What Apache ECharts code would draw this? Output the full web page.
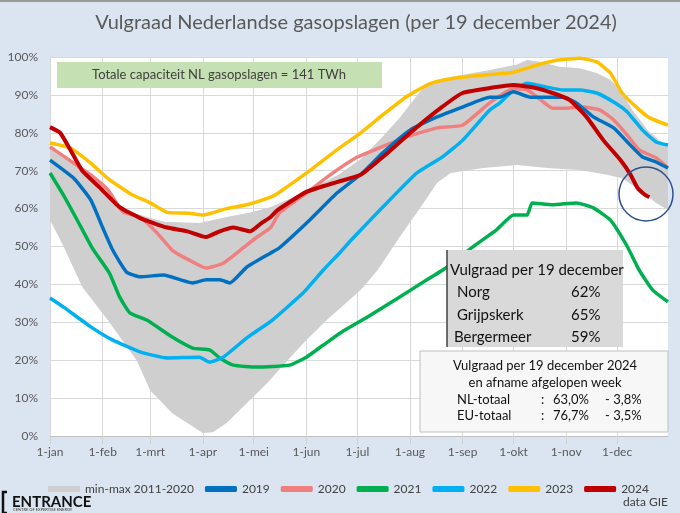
<!DOCTYPE html>
<html>
<head>
<meta charset="utf-8">
<script src="https://cdn.jsdelivr.net/npm/echarts@6/dist/echarts.min.js"></script>
<style>
  html, body { margin: 0; padding: 0; background: #dbe5f1; }
  #main { width: 680px; height: 513px; }
</style>
</head>
<body>
<div id="main"></div>
<script>
// maanden en dagen (x-as), waarden als [dag van het jaar, vulgraad %]
var months = ['jan', 'feb', 'mrt', 'apr', 'mei', 'jun', 'jul', 'aug', 'sep', 'okt', 'nov', 'dec'];
var monthDays = [31, 28, 31, 30, 31, 30, 31, 31, 30, 31, 30, 31];
var yTicks = [0, 10, 20, 30, 40, 50, 60, 70, 80, 90, 100];

// band min-max 2011-2020
var bandMax = [[0,76.5],[14,72],[43,59.6],[67,56.5],[88,56.2],[104,57.8],[118,59],[130,60.4],[151,64.5],[170,69],[183,73],[196,79],[206,84],[220,92],[236,94.7],[259,96.6],[275,98],[281,99.2],[289,98.7],[300,97.4],[312,97],[322,95.8],[330,94],[336,91.3],[343,86],[352,80.7],[359,78],[364,76.3]];
var bandMin = [[0,57],[8,50],[19,39.3],[34,30.6],[51,20],[59,12.1],[72,6],[90,0.8],[96,1],[104,3.4],[116,8.7],[128,14],[140,20],[151,25.3],[163,30.6],[171,33.8],[183,38.5],[193,43.8],[206,52.5],[220,61.5],[228,66.8],[236,69.4],[255,70.7],[275,71.5],[293,70.7],[312,70.2],[328,68.9],[337,68],[347,65],[357,61.5],[364,59.6]];

var y2019 = [[0,72.8],[14,68],[24,62.3],[31,55],[37,49],[45,43.3],[53,42],[67,42.5],[77,41.2],[84,40.4],[92,41.2],[100,41.2],[106,40.4],[116,44.6],[130,48.3],[135,49.6],[153,57],[169,64.1],[184,69.4],[196,74.7],[212,80.7],[228,84.2],[243,86.8],[259,89.4],[265,89.4],[273,90.8],[283,89.4],[293,89.4],[302,89.4],[310,87.9],[320,84.2],[332,81.3],[340,77.6],[349,73.6],[357,72.3],[364,70.7]];
var y2020 = [[0,76.3],[14,72],[24,68.9],[34,65],[43,59.1],[53,57.8],[63,53.6],[72,49],[82,46.4],[92,44.3],[102,45.6],[112,49],[122,52.5],[130,55],[135,58.8],[151,64.1],[165,68.9],[181,73.6],[194,76],[210,78.9],[228,81.3],[243,82],[259,87.9],[273,91.6],[281,91.3],[289,88.7],[296,86.5],[304,86.5],[314,86.8],[324,86],[332,83.4],[340,79.4],[347,75.5],[357,73.4],[364,70.7]];
var y2021 = [[0,69.4],[8,63.5],[16,57],[25,49.5],[35,43],[41,36.7],[47,32.5],[57,30.6],[72,26.1],[84,23.2],[94,22.7],[100,20.6],[108,18.7],[122,18.2],[141,18.7],[151,20.8],[161,24],[171,27.2],[187,31.4],[206,36.7],[222,41.2],[234,44.6],[249,49.9],[263,54.4],[273,58.3],[281,58.3],[284,61.5],[296,61],[310,61.5],[320,60.2],[330,57],[340,50],[347,43.8],[355,38.5],[364,35.4]];
var y2022 = [[0,36.4],[8,34],[24,28.8],[37,25.3],[53,22.2],[69,20.6],[88,20.8],[94,19.5],[102,20.8],[116,25.9],[131,30.6],[149,37.7],[161,43.8],[171,48.5],[177,51.5],[196,60.4],[216,69.4],[231,73.6],[243,78],[259,86],[265,87.9],[273,91.3],[281,93.1],[293,92],[302,91.3],[312,91.3],[322,90.5],[332,88.1],[340,85.5],[349,80.7],[357,77.6],[364,76.8]];
var y2023 = [[0,77.3],[12,76],[24,72],[34,68],[47,64],[59,61.5],[69,59],[82,58.8],[90,58.3],[104,60],[116,61],[130,63],[134,64],[153,70],[169,75.5],[183,80],[196,84.7],[210,89.5],[224,93],[240,94.5],[255,95.2],[273,96],[287,97.9],[299,99.2],[312,99.7],[322,98.7],[330,95.8],[337,90.5],[346,86.5],[353,84],[364,82]];
var y2024 = [[0,81.5],[6,80],[12,75.5],[19,70],[29,65.7],[41,60.4],[53,57.5],[69,55],[81,54],[92,52.5],[100,54],[108,55],[118,54],[124,56],[130,57.8],[134,59.6],[151,64.4],[169,67],[183,68.9],[196,73.6],[214,80.7],[230,86.5],[243,90.5],[259,91.8],[273,92.6],[284,92],[296,90.5],[306,88.7],[316,84.2],[326,78],[336,72.8],[342,68.9],[346,65.5],[350,63.8],[353,63.0]];

var days = [];
months.forEach(function (m, i) {
  for (var d = 1; d <= monthDays[i]; d++) days.push(d + '-' + m);
});
function isMonthStart(index, value) {
  return days[index].split('-')[0] === '1';
}

var font = 'Lato, "Open Sans", sans-serif';
var myChart = echarts.init(document.getElementById('main'));

function yearLine(name, data, color, width) {
  return {
    name: name, type: 'line', data: data, symbol: 'none', smooth: 0.15,
    lineStyle: { color: color, width: width },
    itemStyle: { color: color }
  };
}

var option = {
  backgroundColor: '#dbe5f1',
  textStyle: { fontFamily: font },
  title: {
    text: 'Vulgraad Nederlandse gasopslagen (per 19 december 2024)',
    left: 351, top: 8, textAlign: 'center',
    textStyle: { fontFamily: font, fontSize: 20, fontWeight: 'normal', color: '#595959' }
  },
  grid: { left: 50, right: 12, top: 57, bottom: 77, backgroundColor: '#ffffff', show: true, borderWidth: 0 },
  legend: {
    left: 43, top: 478, itemWidth: 32, itemHeight: 6, itemGap: 11,
    textStyle: { fontFamily: font, fontSize: 12, color: '#404040' },
    data: [
      { name: 'min-max 2011-2020', icon: 'rect', itemStyle: { color: '#cfcfcf' } },
      { name: '2019', icon: 'roundRect' },
      { name: '2020', icon: 'roundRect' },
      { name: '2021', icon: 'roundRect' },
      { name: '2022', icon: 'roundRect' },
      { name: '2023', icon: 'roundRect' },
      { name: '2024', icon: 'roundRect' }
    ]
  },
  xAxis: {
    type: 'category', data: days, boundaryGap: false,
    axisLine: { lineStyle: { color: '#bfbfbf' } },
    axisTick: { show: true, interval: isMonthStart, length: 8, lineStyle: { color: '#d0d0d0' } },
    axisLabel: { interval: isMonthStart, color: '#595959', fontSize: 12, margin: 10, fontFamily: font },
    splitLine: { show: true, interval: isMonthStart, lineStyle: { color: '#d9d9d9' } }
  },
  yAxis: {
    type: 'value', min: yTicks[0], max: yTicks[yTicks.length - 1], interval: 10,
    axisLine: { show: true, lineStyle: { color: '#d9d9d9' } },
    axisTick: { show: false },
    axisLabel: { formatter: '{value}%', color: '#595959', fontSize: 12, margin: 12, fontFamily: font },
    splitLine: { lineStyle: { color: '#d9d9d9' } }
  },
  series: [
    {
      name: 'min-max 2011-2020', type: 'custom', data: [[0, 0]], clip: true,
      itemStyle: { color: '#cfcfcf' },
      renderItem: function (params, api) {
        var pts = bandMax.map(function (p) { return api.coord(p); });
        for (var i = bandMin.length - 1; i >= 0; i--) pts.push(api.coord(bandMin[i]));
        return { type: 'polygon', shape: { points: pts }, style: { fill: '#cfcfcf' } };
      }
    },
    yearLine('2021', y2021, '#00b050', 3.5),
    yearLine('2022', y2022, '#00b0f0', 3.5),
    yearLine('2020', y2020, '#f08080', 3.5),
    yearLine('2019', y2019, '#0070c0', 3.5),
    yearLine('2023', y2023, '#ffc000', 3.5),
    yearLine('2024', y2024, '#c00000', 4)
  ],
  graphic: [
    { type: 'rect', shape: { x: 0, y: 0, width: 680, height: 2 }, style: { fill: '#9a9a9a' } },
    // groene kader
    { type: 'rect', shape: { x: 57, y: 62, width: 325, height: 26 }, style: { fill: '#c5e0b3' }, z: 10 },
    { type: 'text', x: 219, y: 75, style: { text: 'Totale capaciteit NL gasopslagen = 141 TWh', fill: '#404040', font: '13px ' + font, textAlign: 'center', textVerticalAlign: 'middle' }, z: 11 },
    // grijze kader per opslag
    { type: 'rect', shape: { x: 447, y: 250, width: 176, height: 97 }, style: { fill: '#d9d9d9' }, z: 10 },
    { type: 'line', shape: { x1: 447, y1: 250, x2: 447, y2: 347 }, style: { stroke: '#404040', lineWidth: 1.5 }, z: 11 },
    { type: 'text', x: 450, y: 270, style: { text: 'Vulgraad per 19 december', fill: '#111', font: '15px ' + font, textVerticalAlign: 'middle' }, z: 11 },
    { type: 'text', x: 457, y: 292, style: { text: 'Norg', fill: '#111', font: '15px ' + font, textVerticalAlign: 'middle' }, z: 11 },
    { type: 'text', x: 571, y: 292, style: { text: '62%', fill: '#111', font: '15px ' + font, textVerticalAlign: 'middle' }, z: 11 },
    { type: 'text', x: 457, y: 315, style: { text: 'Grijpskerk', fill: '#111', font: '15px ' + font, textVerticalAlign: 'middle' }, z: 11 },
    { type: 'text', x: 571, y: 315, style: { text: '65%', fill: '#111', font: '15px ' + font, textVerticalAlign: 'middle' }, z: 11 },
    { type: 'text', x: 454, y: 337, style: { text: 'Bergermeer', fill: '#111', font: '15px ' + font, textVerticalAlign: 'middle' }, z: 11 },
    { type: 'text', x: 571, y: 337, style: { text: '59%', fill: '#111', font: '15px ' + font, textVerticalAlign: 'middle' }, z: 11 },
    // witte kader totaal
    { type: 'rect', shape: { x: 420, y: 351, width: 248, height: 81 }, style: { fill: '#f7f7f7', stroke: '#bfbfbf', lineWidth: 1 }, z: 10 },
    { type: 'text', x: 545, y: 366, style: { text: 'Vulgraad per 19 december 2024', fill: '#111', font: '13px ' + font, textAlign: 'center', textVerticalAlign: 'middle' }, z: 11 },
    { type: 'text', x: 545, y: 383, style: { text: 'en afname afgelopen week', fill: '#111', font: '13px ' + font, textAlign: 'center', textVerticalAlign: 'middle' }, z: 11 },
    { type: 'text', x: 457, y: 400, style: { text: 'NL-totaal', fill: '#111', font: '13px ' + font, textVerticalAlign: 'middle' }, z: 11 },
    { type: 'text', x: 541, y: 400, style: { text: ':', fill: '#111', font: '13px ' + font, textVerticalAlign: 'middle' }, z: 11 },
    { type: 'text', x: 553, y: 400, style: { text: '63,0%', fill: '#111', font: '13px ' + font, textVerticalAlign: 'middle' }, z: 11 },
    { type: 'text', x: 605, y: 400, style: { text: '- 3,8%', fill: '#111', font: '13px ' + font, textVerticalAlign: 'middle' }, z: 11 },
    { type: 'text', x: 457, y: 416, style: { text: 'EU-totaal', fill: '#111', font: '13px ' + font, textVerticalAlign: 'middle' }, z: 11 },
    { type: 'text', x: 541, y: 416, style: { text: ':', fill: '#111', font: '13px ' + font, textVerticalAlign: 'middle' }, z: 11 },
    { type: 'text', x: 553, y: 416, style: { text: '76,7%', fill: '#111', font: '13px ' + font, textVerticalAlign: 'middle' }, z: 11 },
    { type: 'text', x: 605, y: 416, style: { text: '- 3,5%', fill: '#111', font: '13px ' + font, textVerticalAlign: 'middle' }, z: 11 },
    // cirkel rond eindpunt 2024
    { type: 'circle', shape: { cx: 646, cy: 194, r: 27 }, style: { fill: 'none', stroke: '#2f4f8f', lineWidth: 1.5 }, z: 12 },
    // logo en bron
    { type: 'polyline', shape: { points: [[7, 492], [3, 492], [3, 513], [7, 513]] }, style: { stroke: '#111', lineWidth: 2.5, fill: 'none' } },
    { type: 'text', x: 12, y: 502, style: { text: 'ENTRANCE', fill: '#111', font: 'bold 15px ' + font, textVerticalAlign: 'middle' } },
    { type: 'text', x: 13, y: 510, style: { text: 'CENTRE OF EXPERTISE ENERGY', fill: '#333', font: '4px ' + font, textVerticalAlign: 'middle' } },
    { type: 'text', x: 668, y: 502, style: { text: 'data GIE', fill: '#404040', font: '12px ' + font, textAlign: 'right', textVerticalAlign: 'middle' } }
  ]
};
myChart.setOption(option);
</script>
</body>
</html>
